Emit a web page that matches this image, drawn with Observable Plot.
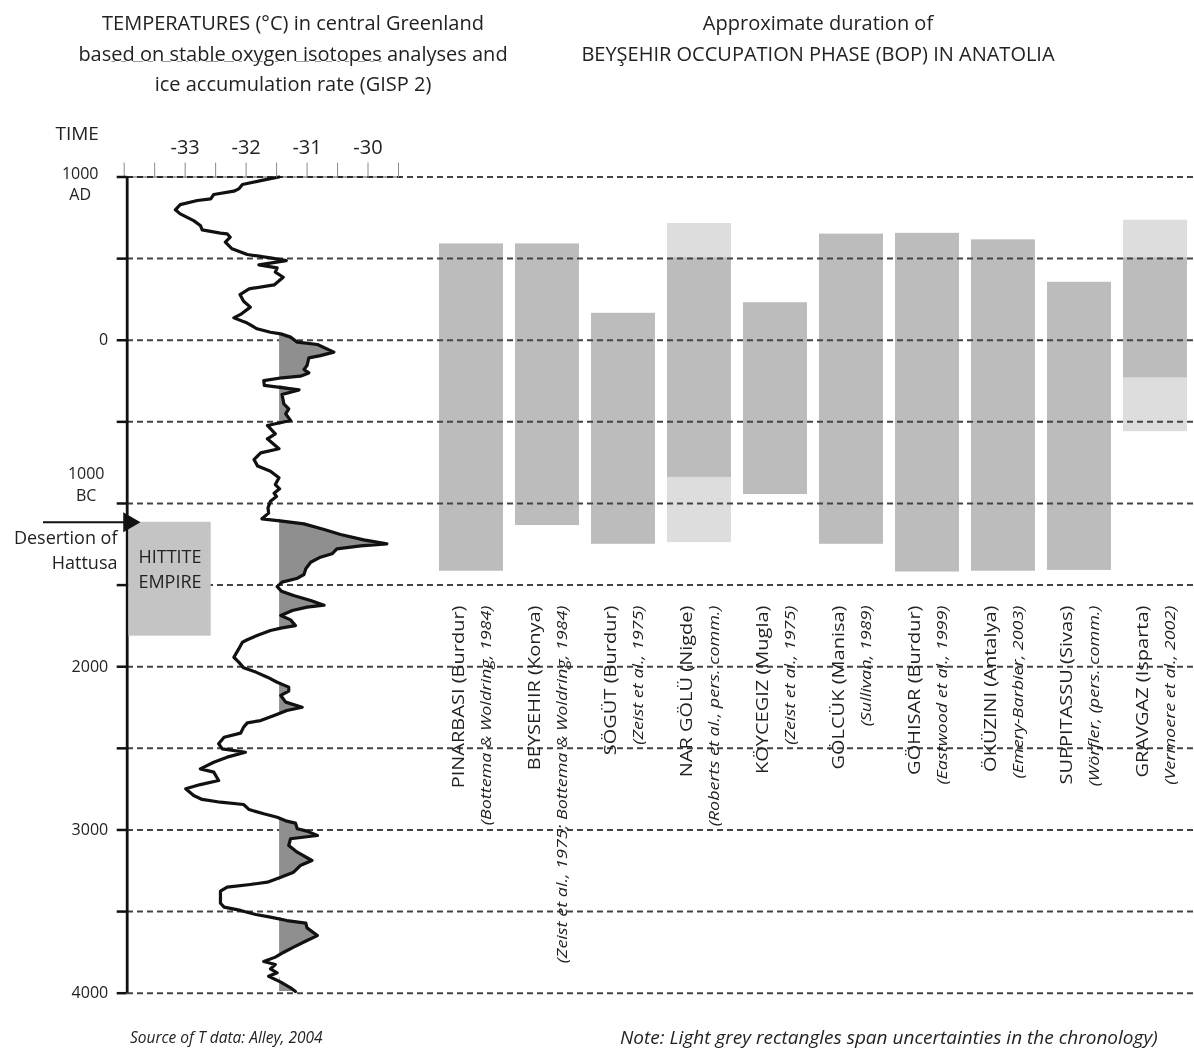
<!DOCTYPE html>
<html>
<head>
<meta charset="utf-8">
<title>GISP2 temperatures and the Beyşehir Occupation Phase</title>
<script src="https://cdn.jsdelivr.net/npm/d3@7"></script>
<script src="https://cdn.jsdelivr.net/npm/@observablehq/plot@0.6"></script>
<style>
  html, body { margin: 0; padding: 0; background: #fff; }
  #chart {
    position: relative; width: 1194px; height: 1051px; overflow: hidden;
    font-family: "Open Sans", sans-serif; color: #222; background: #fff;
  }
  #chart svg.layer { position: absolute; left: 0; top: 100px; }
  .title {
    position: absolute; top: 8px; transform: translateX(-50%);
    text-align: center; font-size: 20px; line-height: 30.5px; white-space: nowrap;
  }
  .title.left { left: 293px; }
  .title.right { left: 818px; }
  .underline {
    text-decoration: underline; text-decoration-color: #9a9a9a;
    text-decoration-thickness: 1px; text-underline-offset: 0px;
  }
  .note {
    position: absolute; top: 1026px; line-height: 22px;
    font-style: italic; white-space: nowrap;
  }
</style>
</head>
<body>
<div id="chart">
  <div class="title left">TEMPERATURES (°C) in central Greenland<br>bas<span class="underline">ed on stable oxygen isotopes</span> analyses and<br>ice accumulation rate (GISP 2)</div>
  <div class="title right">Approximate duration of<br>BEYŞEHIR OCCUPATION PHASE (BOP) IN ANATOLIA</div>
  <div class="note" style="left:130px; font-size:15.5px">Source of T data: Alley, 2004</div>
  <div class="note" style="left:620px; font-size:19px">Note: Light grey rectangles span uncertainties in the chronology)</div>
</div>
<script>
// ---------------------------------------------------------------------------
// GISP 2 temperature record, central Greenland (years: + AD, − BC; °C)
// ---------------------------------------------------------------------------
const tempYears = [
  1000, 978, 954, 927, 913, 893, 866, 856, 831, 799, 774, 733, 703, 676, 656, 652,
  631, 601, 560, 525, 505, 488, 462, 443, 417, 386, 339, 315, 280, 239, 203, 158,
  137, 105, 70, 49, 39, 19, -12, -26, -73, -94, -108, -155, -179, -200, -220, -230,
  -247, -277, -304, -332, -390, -420, -451, -492, -522, -573, -604, -665, -690, -731,
  -771, -802, -843, -884, -910, -937, -957, -986, -1027, -1059, -1094, -1108, -1125,
  -1159, -1190, -1223, -1247, -1260, -1278, -1308, -1329, -1360, -1400, -1435, -1460,
  -1482, -1509, -1537, -1564, -1594, -1623, -1635, -1656, -1686, -1713, -1748, -1762,
  -1778, -1809, -1835, -1850, -1891, -1942, -1972, -2007, -2033, -2064, -2095, -2125,
  -2150, -2176, -2217, -2248, -2268, -2299, -2330, -2344, -2370, -2407, -2432, -2472,
  -2503, -2524, -2554, -2585, -2626, -2646, -2697, -2722, -2748, -2789, -2813, -2830,
  -2844, -2875, -2901, -2922, -2946, -2958, -2993, -3007, -3034, -3054, -3095, -3136,
  -3187, -3218, -3259, -3289, -3320, -3334, -3350, -3375, -3449, -3473, -3493, -3518,
  -3534, -3555, -3571, -3600, -3647, -3677, -3718, -3749, -3779, -3806, -3824, -3851,
  -3875, -3896, -3932, -3967, -3990
];
const tempValues = [
  -31.51, -31.81, -32.11, -32.17, -32.25, -32.58, -32.63, -32.85, -33.13, -33.21, -33.13, -32.91, -32.80, -32.77, -32.47, -32.36,
  -32.31, -32.39, -32.28, -32.03, -31.65, -31.39, -31.84, -31.54, -31.57, -31.44, -31.59, -32.00, -32.15, -32.09, -31.98, -32.14,
  -32.25, -32.03, -31.87, -31.65, -31.48, -31.32, -31.21, -30.88, -30.61, -30.83, -31.02, -31.05, -31.10, -31.02, -31.16, -31.46,
  -31.76, -31.75, -31.18, -31.46, -31.43, -31.35, -31.40, -31.32, -31.70, -31.57, -31.70, -31.51, -31.81, -31.92,
  -31.86, -31.65, -31.51, -31.57, -31.50, -31.59, -31.55, -31.65, -31.69, -31.68, -31.79, -31.46, -31.10,
  -30.77, -30.50, -30.12, -29.74, -30.17, -30.56, -30.64, -30.83, -30.99, -31.07, -31.10, -31.22,
  -31.46, -31.54, -31.47, -31.27, -30.99, -30.77, -31.05, -31.29, -31.48, -31.32, -31.24, -31.46,
  -31.65, -31.87, -32.03, -32.11, -32.17, -32.25, -32.17, -32.09, -31.89, -31.70, -31.54, -31.35,
  -31.35, -31.48, -31.40, -31.13, -31.38, -31.59, -31.81, -32.03, -32.09, -32.14, -32.41, -32.50,
  -32.44, -32.06, -32.36, -32.58, -32.80, -32.58, -32.50, -32.80, -33.04, -32.91, -32.77, -32.47,
  -32.09, -32.00, -31.76, -31.54, -31.38, -31.24, -31.21, -31.05, -30.88, -31.32, -31.35, -31.21,
  -30.97, -31.16, -31.27, -31.48, -31.70, -31.98, -32.36, -32.47, -32.47, -32.41, -32.14, -31.89,
  -31.65, -31.38, -31.07, -31.05, -30.88, -31.05, -31.27, -31.43, -31.57, -31.76, -31.57, -31.65,
  -31.54, -31.68, -31.48, -31.32, -31.24
];
const warmThreshold = -31.5;   // warm anomalies (after the turn of the era) are shaded beyond this value
const shadeFromYear = 60;

// Time axis
const gridYears = [1000, 500, 0, -500, -1000, -1500, -2000, -2500, -3000, -3500, -4000];
const timeTickYears = [1000, 0, -1000, -2000, -3000, -4000];
const timeTickLabels = ["1000\nAD", "0", "1000\nBC", "2000", "3000", "4000"];

// Temperature axis
const tempTicks = [-34, -33.5, -33, -32.5, -32, -31.5, -31, -30.5, -30, -29.5];
const tempTickLabels = ["", "", "-33", "", "-32", "", "-31", "", "-30", ""];

// Hittite Empire and the desertion of Hattusa
const hittiteStart = -1115;
const hittiteEnd = -1813;
const desertionYear = -1115;

// Pollen sites recording the Beyşehir Occupation Phase
const siteNames = ["PINARBASI", "BEYSEHIR", "SÖGÜT", "NAR GÖLÜ", "KÖYCEGIZ",
                   "GÖLCÜK", "GÖHISAR", "ÖKÜZINI", "SUPPITASSU", "GRAVGAZ"];
const provinces = ["Burdur", "Konya", "Burdur", "Nigde", "Mugla",
                   "Manisa", "Burdur", "Antalya", "Sivas", "Isparta"];
const sources = [
  "(Bottema & Woldring, 1984)",
  "(Zeist et al., 1975; Bottema & Woldring, 1984)",
  "(Zeist et al., 1975)",
  "(Roberts et al., pers. comm.)",
  "(Zeist et al., 1975)",
  "(Sullivan, 1989)",
  "(Eastwood et al., 1999)",
  "(Emery-Barbier, 2003)",
  "(Wörfler, (pers. comm.)",
  "(Vermoere et al., 2002)"
];
const bopStart = [590, 590, 165, 505, 230, 650, 655, 615, 355, 505];
const bopEnd = [-1415, -1135, -1250, -840, -945, -1250, -1420, -1415, -1410, -230];
const uncertainSites = ["NAR GÖLÜ", "GRAVGAZ"];
const uncertainStart = [715, 735];
const uncertainEnd = [-1240, -560];

// ---------------------------------------------------------------------------
const temps = tempYears.map((year, i) => ({year, temp: tempValues[i]}));
const sites = siteNames.map((site, i) => ({
  site, province: provinces[i], source: sources[i], start: bopStart[i], end: bopEnd[i]
}));
const uncertain = uncertainSites.map((site, i) => ({site, start: uncertainStart[i], end: uncertainEnd[i]}));
const timeLabels = timeTickYears.map((year, i) => ({year, label: timeTickLabels[i]}));

const W = 1194, H = 910;
const chart = document.getElementById("chart");
const ink = "#222";
const font = "'Open Sans', sans-serif";

// every layer shares the same vertical time scale
function layer(options) {
  const svg = Plot.plot({
    width: W,
    height: H,
    marginTop: 76.5,
    marginBottom: 17.3,
    y: {domain: [-4000, 1000], axis: null},
    style: {background: "transparent", fontFamily: font, color: ink, overflow: "visible"},
    ...options
  });
  svg.classList.add("layer");
  chart.append(svg);
  return svg;
}

// Grid lines, occupation bars and site labels
const labelTop = -1625;
const sitesLayer = layer({
  marginLeft: 127,
  marginRight: 0,
  x: {type: "band", domain: siteNames, range: [437, 1189], paddingInner: 0.157, paddingOuter: 0, axis: null},
  marks: [
    Plot.barY(uncertain, {x: "site", y1: "start", y2: "end", fill: "#dddddd"}),
    Plot.barY(sites, {x: "site", y1: "start", y2: "end", fill: "#bcbcbc"}),
    Plot.ruleY(gridYears, {stroke: "#444", strokeWidth: 2, strokeDasharray: "6,4"}),
    Plot.text(sites, {
      x: "site", y: () => labelTop, text: d => `${d.site} (${d.province})`,
      rotate: -90, textAnchor: "end", dx: -13, fontSize: 20, fill: ink
    }),
    Plot.text(sites, {
      x: "site", y: () => labelTop, text: "source",
      rotate: -90, textAnchor: "end", dx: 15, fontSize: 18, fontStyle: "italic", fill: ink
    })
  ]
});
// narrow the rotated site labels across their glyph height
sitesLayer.querySelectorAll('g[aria-label="text"] text').forEach(t => {
  t.setAttribute("transform", (t.getAttribute("transform") || "") + " scale(1,0.8)");
});

// Temperature curve with its axes and the time axis
layer({
  marginLeft: 126.7,
  marginRight: W - 401,
  x: {domain: [-34, -29.5]},
  marks: [
    Plot.areaX(temps.filter(d => d.year <= shadeFromYear), {
      y: "year", x1: warmThreshold, x2: d => Math.max(d.temp, warmThreshold), fill: "#8f8f8f"
    }),
    Plot.line(temps, {x: "temp", y: "year", stroke: "#111", strokeWidth: 3.2, strokeLinejoin: "round"}),
    Plot.ruleY([1000], {stroke: "#8a8a8a", strokeWidth: 1.5, mixBlendMode: "multiply"}),
    Plot.axisX({
      anchor: "top", ticks: tempTicks, tickSize: 15, tickPadding: 8,
      tickFormat: d => tempTickLabels[tempTicks.indexOf(d)],
      stroke: "#8a8a8a", fill: ink, fontSize: 20, dx: -3, label: null
    }),
    Plot.ruleX([-34], {y1: 1000, y2: -4000, stroke: "#111", strokeWidth: 2.8}),
    Plot.axisY({ticks: gridYears, tickSize: 10, tickFormat: () => "", stroke: "#111", strokeWidth: 2.5, label: null}),
    Plot.text(timeLabels.filter(d => !d.label.includes("\n")), {
      y: "year", text: "label", frameAnchor: "left", textAnchor: "end", lineAnchor: "middle",
      dx: -19, fontSize: 16, fill: ink
    }),
    Plot.text(timeLabels.filter(d => d.label.endsWith("AD")), {
      y: "year", text: "label", frameAnchor: "left", textAnchor: "middle", lineAnchor: "middle",
      dx: -47, dy: 5.5, lineHeight: 1.35, fontSize: 16, fill: ink
    }),
    Plot.text(timeLabels.filter(d => d.label.endsWith("BC")), {
      y: "year", text: "label", frameAnchor: "left", textAnchor: "middle", lineAnchor: "middle",
      dx: -41, dy: -20.5, lineHeight: 1.35, fontSize: 16, fill: ink
    }),
    Plot.text(["TIME"], {
      frameAnchor: "top-left", textAnchor: "middle", lineAnchor: "middle",
      text: d => d, dx: -50, dy: -43, fontSize: 19, fill: ink
    })
  ]
});

// Hittite Empire box
layer({
  marginLeft: 128.3,
  marginRight: W - 210.7,
  marks: [
    Plot.rect([{start: hittiteStart, end: hittiteEnd}], {y1: "start", y2: "end", fill: "#c4c4c4"}),
    Plot.text([{mid: (hittiteStart + hittiteEnd) / 2, label: "HITTITE\nEMPIRE"}], {
      y: "mid", text: "label", frameAnchor: "middle", textAnchor: "middle", lineAnchor: "middle",
      dy: -12, lineHeight: 1.4, fontSize: 18, fill: ink
    })
  ]
});

// Desertion of Hattusa arrow
layer({
  marginLeft: 43,
  marginRight: W - 127,
  marks: [
    Plot.ruleY([desertionYear], {stroke: "#111", strokeWidth: 2}),
    Plot.dot([desertionYear], {
      y: d => d, frameAnchor: "right", symbol: "triangle", rotate: 90, r: 7.4,
      fill: "#111", stroke: "none", dx: 1.5
    }),
    Plot.text([desertionYear], {
      y: d => d, text: () => "Desertion of\nHattusa", frameAnchor: "right", textAnchor: "end",
      lineAnchor: "top", dx: -10, dy: 4, lineHeight: 1.39, fontSize: 18, fill: ink
    })
  ]
});
</script>
</body>
</html>
